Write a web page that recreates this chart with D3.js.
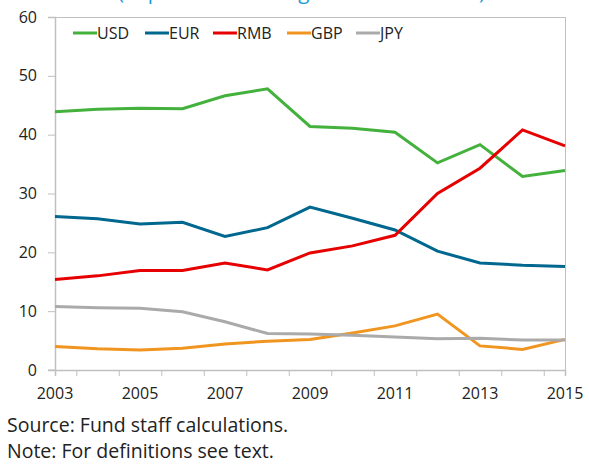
<!DOCTYPE html>
<html><head><meta charset="utf-8">
<script src="https://cdn.jsdelivr.net/npm/d3@7/dist/d3.min.js"></script>
<style>body{margin:0;background:#fff;} svg{display:block;font-family:"Open Sans",sans-serif;}</style>
</head><body>
<svg id="c" width="589" height="464"></svg>
<script>
const years = [2003,2004,2005,2006,2007,2008,2009,2010,2011,2012,2013,2014,2015];
const usd = [43.9,44.3,44.5,44.4,46.6,47.8,41.4,41.1,40.4,35.2,38.3,32.9,33.9];
const eur = [26.1,25.7,24.8,25.1,22.7,24.2,27.7,25.8,23.8,20.2,18.2,17.8,17.6];
const rmb = [15.4,16.0,16.9,16.9,18.2,17.0,19.9,21.1,22.9,30.0,34.3,40.8,38.1];
const gbp = [4.0,3.6,3.4,3.7,4.4,4.9,5.2,6.3,7.5,9.5,4.1,3.5,5.2];
const jpy = [10.8,10.6,10.5,9.9,8.2,6.2,6.1,5.9,5.6,5.3,5.4,5.1,5.1];
const seriesNames = ["USD","EUR","RMB","GBP","JPY"];
const seriesValues = [usd,eur,rmb,gbp,jpy];
const seriesColors = ["#43b13b","#00678f","#e60000","#f0951f","#aaaaaa"];
const yTicks = [0,10,20,30,40,50,60];
const xTickLabels = [2003,2005,2007,2009,2011,2013,2015];
const titleText = "(In percent of all regional transactions)";
const notes = ["Source: Fund staff calculations.","Note: For definitions see text."];

const svg = d3.select("#c");
const L=55,R=565,T=17,B=370;
const x = d3.scaleLinear().domain([2003,2015]).range([L,R]);
const y = d3.scaleLinear().domain([0,60]).range([B,T]);
const axisCol="#c0c0c0";

// title (cut off at top, as in the reference)
svg.append("text").attr("x",118).attr("y",-1).attr("fill","#1a9bd7")
  .attr("font-size",20.5).text(titleText);

// plot frame top/right
svg.append("line").attr("x1",L).attr("x2",R).attr("y1",T+0.5).attr("y2",T+0.5).attr("stroke",axisCol);
svg.append("line").attr("x1",R+0.5).attr("x2",R+0.5).attr("y1",T).attr("y2",B).attr("stroke",axisCol);

// y axis
const ya = svg.append("g").attr("transform",`translate(${L},0)`)
  .call(d3.axisLeft(y).tickValues(yTicks).tickSize(7).tickPadding(11).tickFormat(d3.format("d")));
ya.select(".domain").attr("stroke",axisCol).attr("stroke-width",1.5);
ya.selectAll(".tick line").attr("stroke",axisCol);
ya.selectAll(".tick text").attr("font-size",16).attr("fill","#222").attr("font-family","Open Sans");

// x axis
const halfTicks = d3.range(2003.5,2015,1).concat([2015]);
const xa = svg.append("g").attr("transform",`translate(0,${B})`)
  .call(d3.axisBottom(x).tickValues(halfTicks).tickSize(6).tickFormat(""));
xa.select(".domain").attr("stroke",axisCol).attr("stroke-width",1.5);
xa.selectAll(".tick line").attr("stroke",axisCol);
svg.append("line").attr("x1",L-7).attr("x2",L).attr("y1",B).attr("y2",B).attr("stroke",axisCol);
svg.append("g").selectAll("text").data(xTickLabels).join("text")
  .attr("x",d=>x(d)).attr("y",B+29).attr("text-anchor","middle")
  .attr("font-size",16).attr("fill","#222").text(d=>d);

// lines
const line = d3.line().x((d,i)=>x(years[i])).y(d=>y(d));
seriesValues.forEach((vals,k)=>{
  svg.append("path").datum(vals).attr("d",line).attr("fill","none")
    .attr("stroke",seriesColors[k]).attr("stroke-width",3).attr("stroke-linejoin","miter");
});

// legend
const legX=[73,145,213,287,356];
const lg = svg.append("g");
seriesNames.forEach((n,k)=>{
  lg.append("line").attr("x1",legX[k]).attr("x2",legX[k]+24).attr("y1",33).attr("y2",33)
    .attr("stroke",seriesColors[k]).attr("stroke-width",3);
  lg.append("text").attr("x",legX[k]+24).attr("y",39).attr("font-size",16).attr("fill","#222").text(n);
});

// notes
svg.append("g").selectAll("text").data(notes).join("text")
  .attr("x",7).attr("y",(d,i)=>432+i*26).attr("font-size",19.5).attr("fill","#222").text(d=>d);
</script>
</body></html>
